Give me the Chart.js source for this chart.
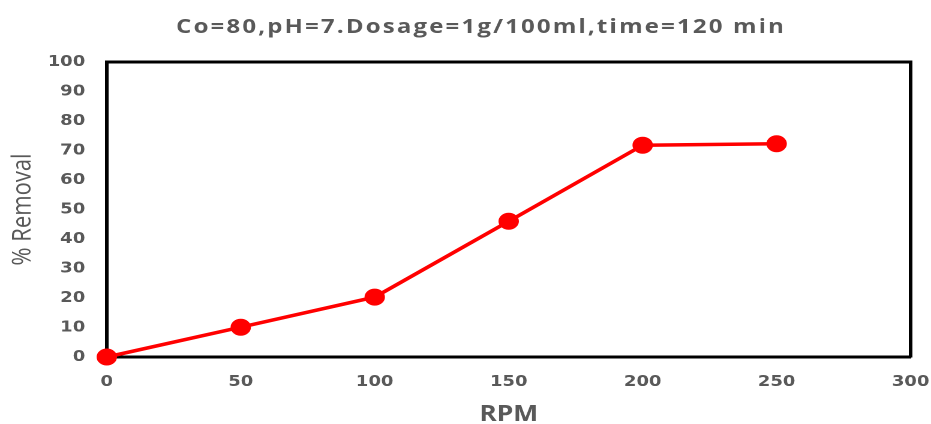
<!DOCTYPE html>
<html>
<head>
<meta charset="utf-8">
<script src="https://cdn.jsdelivr.net/npm/chart.js@4.4.1/dist/chart.umd.min.js"></script>
<style>
  html, body { margin: 0; padding: 0; background: #ffffff; overflow: hidden; width: 931px; height: 424px; }
  #wrap { position: absolute; left: 0; top: 0; width: 776px; height: 430px; transform: scaleX(1.19974); transform-origin: 0 0; }
  #c { display: block; }
</style>
</head>
<body>
<div id="wrap"><canvas id="c" width="776" height="430"></canvas></div>
<script>
const TITLE = 'Co=80,pH=7.Dosage=1g/100ml,time=120 min';
const X_TITLE = 'RPM';
const Y_TITLE = '% Removal';
const rpm = [0, 50, 100, 150, 200, 250];
const removal = [0, 10.1, 20.3, 46.0, 71.8, 72.3];
const xTicks = [0, 50, 100, 150, 200, 250, 300];
const yTicks = [0, 10, 20, 30, 40, 50, 60, 70, 80, 90, 100];

const GREY = '#595959';
const tickFont = { family: 'DejaVu Sans', weight: 'bold', size: 15 };

const titlePlugin = {
  id: 'offsetTitle',
  afterDraw(chart) {
    const ctx = chart.ctx;
    ctx.save();
    ctx.font = 'bold 20px "Open Sans"';
    if ('letterSpacing' in ctx) ctx.letterSpacing = '1.8px';
    ctx.fillStyle = GREY;
    ctx.textAlign = 'center';
    ctx.textBaseline = 'alphabetic';
    ctx.fillText(TITLE, 401, 33);
    ctx.restore();
  }
};

function noPad(s) { s.paddingLeft = 0; s.paddingRight = 0; s.paddingTop = 0; s.paddingBottom = 0; }

new Chart(document.getElementById('c'), {
  type: 'line',
  data: {
    datasets: [{
      data: rpm.map((x, i) => ({ x: x, y: removal[i] })),
      borderColor: '#ff0000',
      backgroundColor: '#ff0000',
      borderWidth: 3.5,
      pointRadius: 8,
      pointBorderWidth: 1,
      pointBackgroundColor: '#ff0000',
      pointBorderColor: '#ff0000',
      tension: 0,
      clip: false
    }]
  },
  options: {
    responsive: false,
    animation: false,
    devicePixelRatio: 2,
    layout: { padding: { top: 62, right: 17, bottom: 0, left: 0 } },
    plugins: { legend: { display: false }, title: { display: false }, tooltip: { enabled: false } },
    scales: {
      x: {
        type: 'linear', position: 'bottom', min: 0, max: 300,
        afterBuildTicks: s => { s.ticks = xTicks.map(v => ({ value: v })); },
        afterFit: s => { s.height = 430 - 357; noPad(s); },
        ticks: { font: tickFont, color: GREY, padding: 16 },
        grid: { display: false, drawTicks: false },
        border: { display: true, color: '#000', width: 3 },
        title: { display: true, text: X_TITLE, color: GREY, font: { family: 'Open Sans', weight: 'bold', size: 22 }, padding: { top: 0, bottom: 2 } }
      },
      y: {
        type: 'linear', position: 'left', min: 0, max: 100,
        afterBuildTicks: s => { s.ticks = yTicks.map(v => ({ value: v })); },
        afterFit: s => { s.width = 89; noPad(s); },
        ticks: { font: tickFont, color: GREY, padding: 18 },
        grid: { display: false, drawTicks: false },
        border: { display: true, color: '#000', width: 3 },
        title: { display: true, text: Y_TITLE, color: GREY, font: { family: 'Open Sans', size: 22 }, padding: { top: 6, bottom: 0 } }
      },
      x2: {
        type: 'linear', position: 'top', min: 0, max: 300,
        afterFit: s => { s.height = 0; noPad(s); },
        ticks: { display: false },
        grid: { display: false, drawTicks: false },
        border: { display: true, color: '#000', width: 3 }
      },
      y2: {
        type: 'linear', position: 'right', min: 0, max: 100,
        afterFit: s => { s.width = 0; noPad(s); },
        ticks: { display: false },
        grid: { display: false, drawTicks: false },
        border: { display: true, color: '#000', width: 3 }
      }
    }
  },
  plugins: [titlePlugin]
});
</script>
</body>
</html>
